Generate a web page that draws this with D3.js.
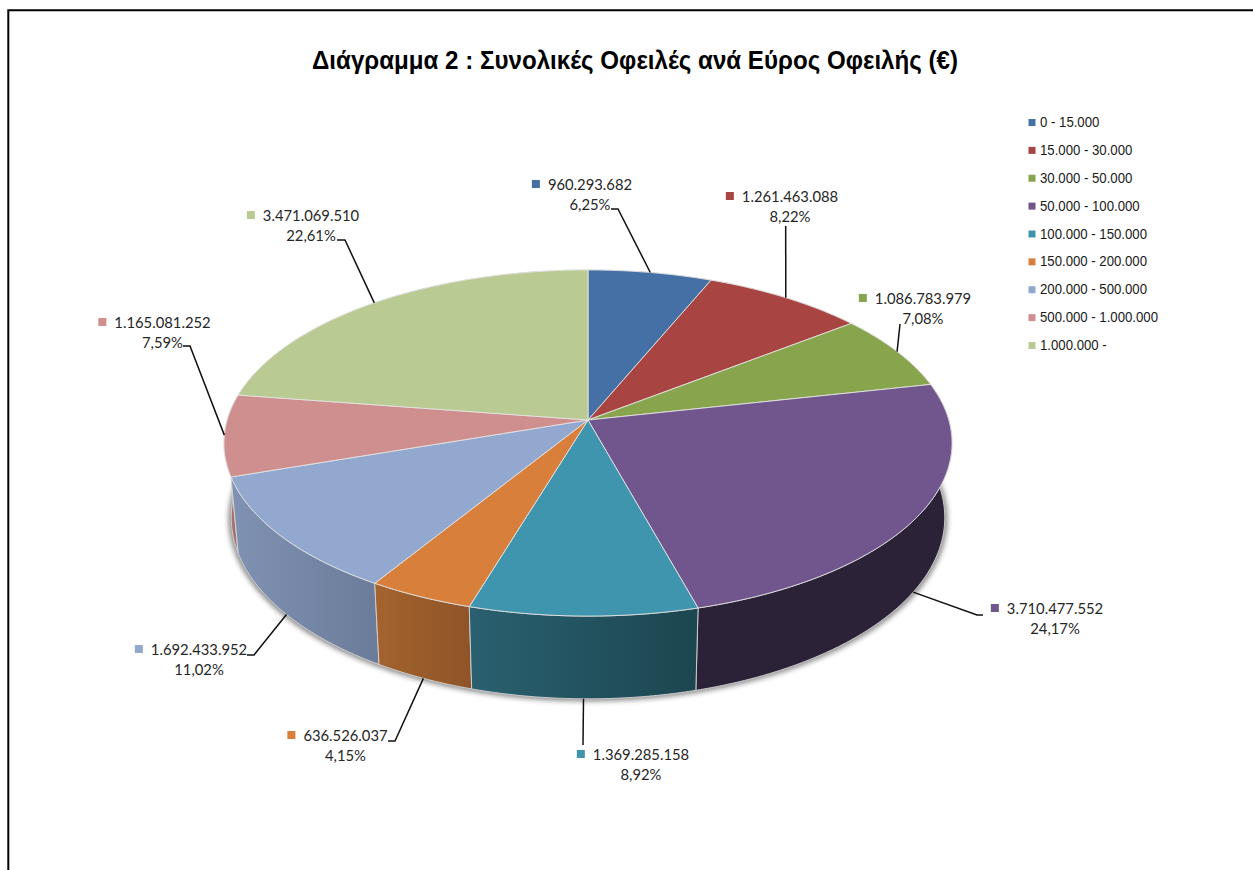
<!DOCTYPE html>
<html><head><meta charset="utf-8">
<script src="https://cdn.jsdelivr.net/npm/d3@7"></script>
<style>html,body{margin:0;padding:0;background:#fff;overflow:hidden}svg{display:block}</style>
</head><body><div id="c"></div>
<script>
const titleText = "Διάγραμμα 2 : Συνολικές Οφειλές ανά Εύρος Οφειλής (€)";
const categories = ["0 - 15.000","15.000 - 30.000","30.000 - 50.000","50.000 - 100.000","100.000 - 150.000","150.000 - 200.000","200.000 - 500.000","500.000 - 1.000.000","1.000.000 -"];
const values = [960293682,1261463088,1086783979,3710477552,1369285158,636526037,1692433952,1165081252,3471069510];
const valueLabels = ["960.293.682","1.261.463.088","1.086.783.979","3.710.477.552","1.369.285.158","636.526.037","1.692.433.952","1.165.081.252","3.471.069.510"];
const percentLabels = ["6,25%","8,22%","7,08%","24,17%","8,92%","4,15%","11,02%","7,59%","22,61%"];

const topColors = ["#4570a5","#a84442","#88a44c","#71558d","#4095ae","#d8803b","#92a8ce","#cf8f8e","#b9ca93"];
const wallFrom  = ["#2e4a6e","#702d2c","#5a6c32","#2c2238","#2a6070","#a5632e","#8092b3","#a87170","#8a9a6c"];
const wallTo    = ["#2e4a6e","#702d2c","#5a6c32","#2c2238","#1c4650","#8e5428","#6b7c9a","#a87170","#8a9a6c"];

// label placement: centre x, first baseline, leader elbow points, which rim the leader touches
const labelLayout = [
  {cx:590,  y:190, elbow:[[611,209],[618,209]], rim:"top"},
  {cx:790,  y:202, elbow:[[785.7,226]], rim:"top"},
  {cx:923,  y:304, elbow:[[900,324]], rim:"top"},
  {cx:1055, y:614, elbow:[[983,615],[977,615]], rim:"low"},
  {cx:641,  y:760, elbow:[[583,745]], rim:"low"},
  {cx:345.5,y:741, elbow:[[388,741],[395,741]], rim:"low"},
  {cx:199,  y:655, elbow:[[247,655],[254,655]], rim:"low"},
  {cx:162.5,y:328, elbow:[[183,346],[190,346]], rim:"top"},
  {cx:311,  y:221, elbow:[[337,240],[345,240]], rim:"top"}
];

const W = 1253, H = 870;
const svg = d3.select("#c").append("svg").attr("width",W).attr("height",H);
const defs = svg.append("defs");
defs.append("filter").attr("id","blur").attr("x","-10%").attr("y","-10%").attr("width","120%").attr("height","120%")
  .append("feGaussianBlur").attr("stdDeviation",2.5);

// frame
svg.append("path").attr("d",`M8.3,${H}V10.3H${W}`).attr("fill","none").attr("stroke","#000").attr("stroke-width",2);

// title
svg.append("text").text(titleText).attr("x",635).attr("y",69).attr("text-anchor","middle")
  .attr("font-family","'Liberation Sans'").attr("font-weight","bold").attr("font-size",26)
  .attr("textLength",646).attr("lengthAdjust","spacingAndGlyphs").attr("fill","#000");

// perspective disc projection
const k = 0.133, cx = 588;
const disc = {
  top:{y0:420, a:360.8, b:170},
  low:{y0:493.5, a:360.8*0.98, b:178}
};
function proj(theta, d){
  const u = Math.sin(theta), v = -Math.cos(theta), s = 1/(1-k*v);
  return [cx + d.a*u*s, d.y0 + d.b*v*s];
}
function arcPts(a0,a1,d){
  const n = Math.max(2,Math.ceil((a1-a0)/0.01));
  return d3.range(n+1).map(i=>proj(a0+(a1-a0)*i/n,d));
}
const line = d3.line();
const arcs = d3.pie().sort(null).startAngle(0).endAngle(2*Math.PI)(values);

// shadow
const shadowPts = arcPts(0,2*Math.PI,{y0:disc.low.y0+1,a:disc.low.a*1.008,b:disc.low.b*1.008});
svg.append("path").attr("d",line(shadowPts)+"Z").attr("fill","#555").attr("opacity",.65).attr("filter","url(#blur)");

// walls, back to front
const wallOrder = arcs.map((d,i)=>({d,i}))
  .sort((p,q)=>(-Math.cos((p.d.startAngle+p.d.endAngle)/2))-(-Math.cos((q.d.startAngle+q.d.endAngle)/2)));
wallOrder.forEach(({d,i})=>{
  const t = arcPts(d.startAngle,d.endAngle,disc.top), l = arcPts(d.startAngle,d.endAngle,disc.low).reverse();
  const xs = t.concat(l).map(p=>p[0]);
  const g = defs.append("linearGradient").attr("id","w"+i).attr("gradientUnits","userSpaceOnUse")
    .attr("x1",d3.min(xs)).attr("x2",d3.max(xs)).attr("y1",0).attr("y2",0);
  g.append("stop").attr("offset",0).attr("stop-color",wallFrom[i]);
  g.append("stop").attr("offset",1).attr("stop-color",wallTo[i]);
  svg.append("path").attr("d",line(t.concat(l))+"Z").attr("fill",`url(#w${i})`)
    .attr("stroke","#d5d5d5").attr("stroke-width",.9).attr("stroke-linejoin","round");
});

// top face
arcs.forEach((d,i)=>{
  const pts = [[cx,disc.top.y0]].concat(arcPts(d.startAngle,d.endAngle,disc.top));
  svg.append("path").attr("d",line(pts)+"Z").attr("fill",topColors[i])
    .attr("stroke","#e4e4e4").attr("stroke-width",.9).attr("stroke-linejoin","round");
});

// leaders and labels
arcs.forEach((d,i)=>{
  const L = labelLayout[i];
  const end = proj((d.startAngle+d.endAngle)/2, disc[L.rim]);
  svg.append("path").attr("d",line(L.elbow.concat([end]))).attr("fill","none").attr("stroke","#111").attr("stroke-width",1.5);
  const lab = svg.append("g").attr("font-family","Lato").attr("font-size",14.8).attr("fill","#262626").attr("text-anchor","middle");
  const t1 = lab.append("text").attr("x",L.cx).attr("y",L.y).text(valueLabels[i]);
  lab.append("text").attr("x",L.cx).attr("y",L.y+19.5).text(percentLabels[i]);
  const w = t1.node().getComputedTextLength();
  svg.append("rect").attr("x",L.cx-w/2-16).attr("y",L.y-10).attr("width",8).attr("height",8).attr("fill",topColors[i]);
});

// legend
const legendY = d3.scalePoint().domain(categories).range([122,345]);
categories.forEach((c,i)=>{
  const y = legendY(c);
  svg.append("rect").attr("x",1028.5).attr("y",y-3).attr("width",7).attr("height",7).attr("fill",topColors[i]);
  svg.append("text").text(c).attr("transform",`translate(1040,${y+5}) scale(.88,1)`)
    .attr("font-family","'Liberation Sans'").attr("font-size",15).attr("fill","#1a1a1a");
});
</script></body></html>
